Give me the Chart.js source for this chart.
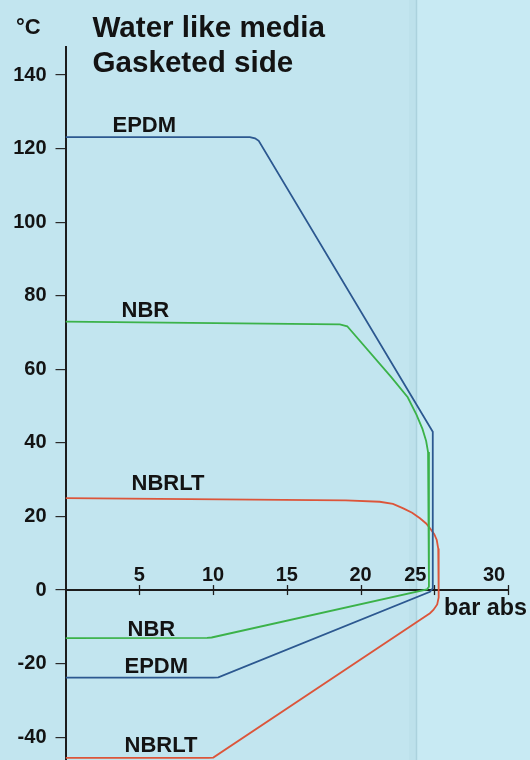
<!DOCTYPE html>
<html>
<head>
<meta charset="utf-8">
<script src="https://cdn.jsdelivr.net/npm/chart.js@4.4.1/dist/chart.umd.min.js"></script>
<style>
html,body{margin:0;padding:0;background:#c3e6f0;overflow:hidden}
#wrap{width:530px;height:760px;position:relative}
</style>
</head>
<body>
<div id="wrap"><canvas id="c" width="530" height="760"></canvas></div>
<script>
// ---- data ----
const xTickValues = [5, 10, 15, 20, 25, 30];
const yTickValues = [-40, -20, 0, 20, 40, 60, 80, 100, 120, 140];

const seriesNames = ['EPDM', 'NBR', 'NBRLT'];

const epdmX = [0, 12.5, 12.85, 13.1, 24.9, 24.9, 24.71, 10.36, 10.0, 0];
const epdmY = [123.1, 123.1, 122.8, 122.1, 43.0, 0.5, -0.46, -23.73, -23.8, -23.8];

const nbrX = [0, 18.6, 19.1, 22.1, 23.2, 23.8, 24.2, 24.45, 24.58, 24.64, 24.64, 24.5, 9.91, 9.6, 0];
const nbrY = [72.95, 72.2, 71.7, 57.8, 52.4, 47.6, 43.8, 40.5, 37.5, 34.0, 0.9, 0.15, -12.9, -13.0, -13.05];

const nbrltX = [0, 19.0, 21.3, 22.2, 22.9, 23.5, 24.03, 24.45, 24.71, 25.0, 25.17, 25.27, 25.3, 25.3, 25.2, 24.94, 24.71, 10.02, 9.7, 0];
const nbrltY = [25.0, 24.4, 24.0, 23.4, 22.2, 21.0, 19.5, 18.1, 16.8, 15.2, 13.6, 11.3, 9.0, -2.0, -3.9, -5.4, -6.3, -45.55, -45.6, -45.6];

const titleLines = ['Water like media', 'Gasketed side'];
const yUnit = '°C';
const xUnit = 'bar abs';

// ---- helpers ----
const FONT = '"Liberation Sans", Arial, Helvetica, sans-serif';
const toPts = (xs, ys) => xs.map((x, i) => ({x: x, y: ys[i]}));

const bgPlugin = {
  id: 'bg',
  beforeDraw(chart) {
    const ctx = chart.ctx;
    ctx.save();
    ctx.fillStyle = '#c2e5ef';
    ctx.fillRect(0, 0, chart.width, chart.height);
    ctx.fillStyle = '#c8eaf3';
    ctx.fillRect(417, 0, chart.width - 417, chart.height);
    ctx.fillStyle = 'rgba(150,195,208,0.10)';
    ctx.fillRect(409, 0, 7, chart.height);
    ctx.strokeStyle = '#abd2dd';
    ctx.lineWidth = 1.5;
    ctx.beginPath();
    ctx.moveTo(416.5, 0);
    ctx.lineTo(416.5, chart.height);
    ctx.stroke();
    ctx.restore();
  }
};

const axisPlugin = {
  id: 'xaxisdeco',
  beforeDatasetsDraw(chart) {
    const ctx = chart.ctx;
    const xs = chart.scales.x, ys = chart.scales.y;
    const y0 = ys.getPixelForValue(0);
    ctx.save();
    ctx.strokeStyle = '#1c1c1c';
    ctx.lineWidth = 1.3;
    xTickValues.forEach(v => {
      const px = Math.round(xs.getPixelForValue(v)) + 0.5;
      ctx.beginPath();
      ctx.moveTo(px, y0 - 5);
      ctx.lineTo(px, y0 + 5);
      ctx.stroke();
    });
    ctx.restore();
  },
  afterDraw(chart) {
    const ctx = chart.ctx;
    const xs = chart.scales.x, ys = chart.scales.y;
    const y0 = ys.getPixelForValue(0);
    const shift = {25: -19, 30: -14};
    ctx.save();
    ctx.fillStyle = '#131313';
    ctx.textBaseline = 'alphabetic';
    ctx.textAlign = 'center';
    ctx.font = 'bold 20px ' + FONT;
    xTickValues.forEach(v => {
      const px = xs.getPixelForValue(v) + (shift[v] || 0);
      ctx.fillText(String(v), px, y0 - 9.5);
    });
    ctx.textAlign = 'left';
    ctx.font = 'bold 22px ' + FONT;
    ctx.fillText(yUnit, 16, 33.5);
    ctx.font = 'bold 29.6px ' + FONT;
    ctx.fillText(titleLines[0], 92.5, 36.7);
    ctx.fillText(titleLines[1], 92.5, 71.7);
    ctx.font = 'bold 23.3px ' + FONT;
    ctx.fillText(xUnit, 444, 614.5);
    ctx.font = 'bold 22px ' + FONT;
    const labels = [
      [seriesNames[0], 112.5, 131.5],
      [seriesNames[1], 121.5, 316.5],
      [seriesNames[2], 131.5, 490],
      [seriesNames[1], 127.5, 636],
      [seriesNames[0], 124.5, 673],
      [seriesNames[2], 124.5, 751.5]
    ];
    labels.forEach(l => ctx.fillText(l[0], l[1], l[2]));
    ctx.restore();
  }
};

new Chart(document.getElementById('c'), {
  type: 'scatter',
  data: {
    datasets: [
      {label: seriesNames[0], data: toPts(epdmX, epdmY), borderColor: '#2c5890'},
      {label: seriesNames[1], data: toPts(nbrX, nbrY), borderColor: '#3bb249'},
      {label: seriesNames[2], data: toPts(nbrltX, nbrltY), borderColor: '#dc553a'}
    ].map(d => Object.assign(d, {showLine: true, pointRadius: 0, pointHoverRadius: 0, borderWidth: 1.8, tension: 0, fill: false}))
  },
  options: {
    responsive: false,
    animation: false,
    events: [],
    layout: {padding: {left: 0, top: 46.7, right: 22, bottom: 0}},
    plugins: {legend: {display: false}, tooltip: {enabled: false}, title: {display: false}},
    scales: {
      x: {
        type: 'linear', min: 0, max: 30, position: {y: 0},
        afterBuildTicks: s => { s.ticks = xTickValues.map(v => ({value: v})); },
        border: {display: true, color: '#1c1c1c', width: 2},
        grid: {drawOnChartArea: false, drawTicks: false},
        ticks: {display: false}
      },
      y: {
        type: 'linear', min: -46.2, max: 147.7, position: 'left',
        afterBuildTicks: s => { s.ticks = yTickValues.map(v => ({value: v})); },
        afterFit: s => { s.width = 65.5; s.paddingTop = 0; s.paddingBottom = 0; },
        border: {display: true, color: '#1c1c1c', width: 2},
        grid: {drawOnChartArea: false, drawTicks: true, tickLength: 10, color: '#2a2a2a', lineWidth: 1.2},
        ticks: {padding: 9, color: '#131313', font: {family: FONT, size: 20, weight: 'bold'}, callback: v => String(v)}
      }
    }
  },
  plugins: [bgPlugin, axisPlugin]
});
</script>
</body>
</html>
